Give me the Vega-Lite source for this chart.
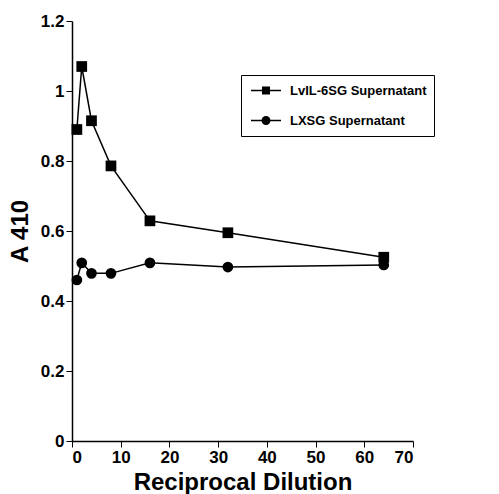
{
  "$schema": "https://vega.github.io/schema/vega-lite/v6.json",
  "autosize": {"type": "none"},
  "width": 341,
  "height": 420,
  "padding": {"left": 72, "top": 21, "right": 86, "bottom": 53},
  "background": "white",
  "config": {
    "view": {"stroke": null},
    "font": "Liberation Sans",
    "axis": {
      "domainColor": "black",
      "domainWidth": 1.5,
      "tickColor": "black",
      "tickWidth": 1,
      "tickSize": 6,
      "grid": false,
      "labelFont": "Liberation Sans",
      "labelFontWeight": "bold",
      "labelFontSize": 17,
      "labelColor": "black",
      "titleFont": "Liberation Sans",
      "titleFontWeight": "bold",
      "titleColor": "black"
    }
  },
  "data": {
    "values": [
      {"dilution": 1, "a410": 0.89, "series": "LvIL-6SG Supernatant"},
      {"dilution": 2, "a410": 1.07, "series": "LvIL-6SG Supernatant"},
      {"dilution": 4, "a410": 0.915, "series": "LvIL-6SG Supernatant"},
      {"dilution": 8, "a410": 0.786, "series": "LvIL-6SG Supernatant"},
      {"dilution": 16, "a410": 0.629, "series": "LvIL-6SG Supernatant"},
      {"dilution": 32, "a410": 0.595, "series": "LvIL-6SG Supernatant"},
      {"dilution": 64, "a410": 0.525, "series": "LvIL-6SG Supernatant"},
      {"dilution": 1, "a410": 0.46, "series": "LXSG Supernatant"},
      {"dilution": 2, "a410": 0.509, "series": "LXSG Supernatant"},
      {"dilution": 4, "a410": 0.479, "series": "LXSG Supernatant"},
      {"dilution": 8, "a410": 0.479, "series": "LXSG Supernatant"},
      {"dilution": 16, "a410": 0.509, "series": "LXSG Supernatant"},
      {"dilution": 32, "a410": 0.497, "series": "LXSG Supernatant"},
      {"dilution": 64, "a410": 0.503, "series": "LXSG Supernatant"}
    ]
  },
  "encoding": {
    "x": {
      "field": "dilution",
      "type": "quantitative",
      "scale": {"domain": [0, 70], "nice": false},
      "axis": {"values": [0, 10, 20, 30, 40, 50, 60, 70], "title": "Reciprocal Dilution", "titleFontSize": 24, "titlePadding": 5, "labelPadding": 2, "format": "d"}
    },
    "y": {
      "field": "a410",
      "type": "quantitative",
      "scale": {"domain": [0, 1.2], "nice": false},
      "axis": {"values": [0, 0.2, 0.4, 0.6, 0.8, 1, 1.2], "format": ".1~f", "title": "A 410", "titleFontSize": 24, "titlePadding": 8, "labelPadding": 2}
    }
  },
  "resolve": {"scale": {"shape": "independent"}, "legend": {"shape": "independent"}},
  "layer": [
    {
      "mark": {"type": "line", "color": "black", "strokeWidth": 1.5},
      "encoding": {"detail": {"field": "series", "type": "nominal"}}
    },
    {
      "mark": {"type": "point", "filled": true, "color": "black", "opacity": 1, "size": 115},
      "encoding": {
        "shape": {
          "field": "series",
          "type": "nominal",
          "scale": {"domain": ["LvIL-6SG Supernatant", "LXSG Supernatant"], "range": ["square", "circle"]},
          "legend": null
        }
      }
    },
    {
      "mark": {"type": "point", "filled": true, "color": "black", "opacity": 1, "size": 0},
      "encoding": {
        "shape": {
          "field": "series",
          "type": "nominal",
          "scale": {"domain": ["LvIL-6SG Supernatant", "LXSG Supernatant"], "range": ["M-0.733,-0.1H0.74V0.1H-0.733ZM1.79,-0.1H3.267V0.1H1.79ZM0.733,-0.533H1.8V0.533H0.733Z", "M-0.733,-0.1H0.68V0.1H-0.733ZM1.85,-0.1H3.267V0.1H1.85ZM1.867,0A0.6,0.6 0 1 1 0.667,0A0.6,0.6 0 1 1 1.867,0Z"]},
          "legend": {
            "title": null,
            "orient": "none",
            "legendX": 169,
            "legendY": 54,
            "direction": "vertical",
            "strokeColor": "black",
            "padding": 7,
            "symbolSize": 225,
            "symbolOpacity": 1,
            "symbolFillColor": "black",
            "labelFont": "Liberation Sans",
            "labelFontWeight": "bold",
            "labelFontSize": 13,
            "labelColor": "black",
            "labelLimit": 300,
            "labelOffset": 25,
            "rowPadding": 14
          }
        }
      }
    }
  ]
}
